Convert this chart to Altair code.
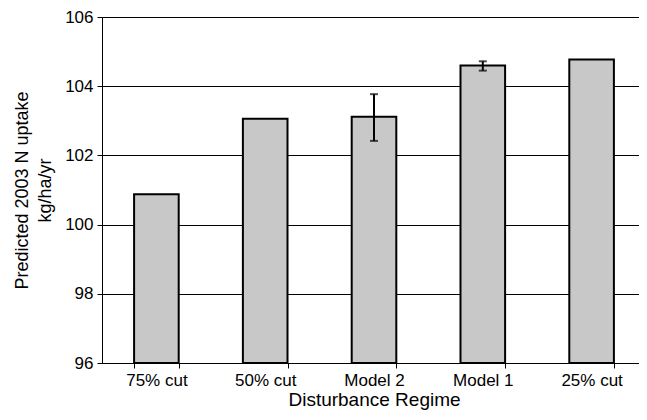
import altair as alt
import pandas as pd

categories = ["75% cut", "50% cut", "Model 2", "Model 1", "25% cut"]
values = [100.88, 103.06, 103.12, 104.60, 104.77]
err_low = [None, None, 102.42, 104.45, None]
err_high = [None, None, 103.77, 104.72, None]
baseline = 96

df = pd.DataFrame({"regime": categories, "uptake": values,
                   "lo": err_low, "hi": err_high})
err_df = df.dropna()

FONT = "Liberation Sans"

x_scale = alt.Scale(paddingInner=0.59, paddingOuter=0.295, range=[0, 544])

x_enc = alt.X("regime:N", sort=categories, scale=x_scale,
              axis=alt.Axis(title="Disturbance Regime", labelAngle=0,
                            tickBand="extent", tickSize=5, tickColor="black",
                            domainColor="black", labelFontSize=17,
                            labelPadding=4, titleFontSize=19, titlePadding=2,
                            labelColor="black", titleColor="black",
                            labelFont=FONT, titleFont=FONT,
                            titleFontWeight="normal"))

bars = alt.Chart(df).mark_bar(fill="#c8c8c8", stroke="black", strokeWidth=2).encode(
    x=x_enc,
    y=alt.Y("uptake:Q", scale=alt.Scale(domain=[96, 106], nice=False, zero=False),
            axis=alt.Axis(title=["Predicted 2003 N uptake", "kg/ha/yr"],
                          values=[96, 98, 100, 102, 104, 106],
                          grid=True, gridColor="black", gridWidth=1, gridOpacity=1,
                          tickSize=5, tickColor="black", domainColor="black",
                          labelFontSize=17, labelPadding=4, labelColor="black",
                          titleFontSize=18, titleColor="black", titlePadding=10,
                          labelFont=FONT, titleFont=FONT, titleFontWeight="normal",
                          titleLineHeight=23)),
    y2=alt.Y2(datum=baseline),
)

rules = alt.Chart(err_df).mark_rule(color="black", strokeWidth=2).encode(
    x=alt.X("regime:N", sort=categories),
    y="lo:Q",
    y2="hi:Q",
)

cap_lo = alt.Chart(err_df).mark_tick(color="black", size=8, thickness=2).encode(
    x=alt.X("regime:N", sort=categories), y="lo:Q")
cap_hi = alt.Chart(err_df).mark_tick(color="black", size=8, thickness=2).encode(
    x=alt.X("regime:N", sort=categories), y="hi:Q")

chart = alt.layer(bars, rules, cap_lo, cap_hi).properties(
    width=537, height=346,
    autosize=alt.AutoSizeParams(type="none"),
    padding={"left": 94, "top": 9, "right": 0, "bottom": 49},
    background="white",
).configure_view(stroke="#999999", strokeWidth=1)

chart.save("out.html", embed_options={"renderer": "svg", "actions": False})
